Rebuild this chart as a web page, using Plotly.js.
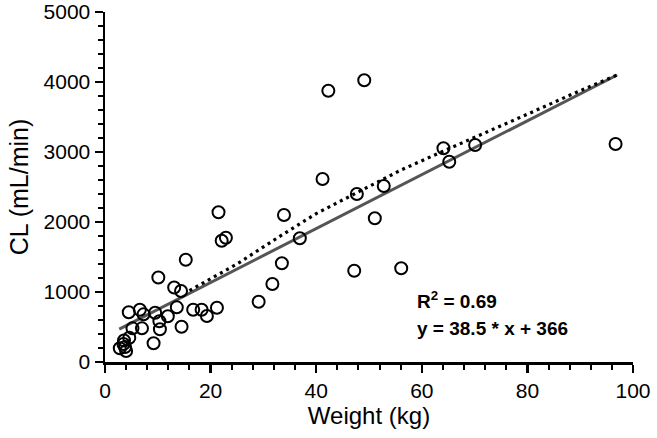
<!DOCTYPE html>
<html>
<head>
<meta charset="utf-8">
<script src="https://cdn.plot.ly/plotly-3.0.1.min.js"></script>
<style>html,body{margin:0;padding:0;background:#fff;}#chart{width:657px;height:438px;}</style>
</head>
<body>
<div id="chart"></div>
<script>
// Observed data: body weight (kg) vs clearance (mL/min)
var weight = [42.3, 49.1, 41.2, 47.7, 52.8, 51.1, 64.1, 65.2, 70.1, 96.7,
  33.9, 36.9, 33.5, 47.2, 56.1, 21.5, 22.1, 22.9, 15.3, 10.1,
  13.1, 14.4, 31.7, 29.1, 4.5, 6.6, 7.3, 9.5, 13.6, 11.9,
  16.7, 18.3, 19.3, 21.2, 10.3, 10.4, 14.5, 7.0, 5.2, 9.2,
  4.6, 3.6, 3.5, 2.8, 4.0, 3.8];
var clearance = [3876, 4024, 2614, 2400, 2514, 2053, 3053, 2861, 3100, 3114,
  2100, 1767, 1410, 1304, 1339, 2139, 1733, 1776, 1461, 1207,
  1064, 1014, 1114, 861, 710, 747, 681, 704, 781, 653,
  747, 747, 657, 776, 583, 467, 504, 481, 481, 267,
  347, 307, 257, 196, 157, 215];

// Linear regression line
var fitX = [2.7, 97];
var fitY = [470, 4100];

// Dotted reference curve
var dotX = [16, 25, 33, 40, 48, 56, 64, 72, 80, 88, 97];
var dotY = [1020, 1400, 1790, 2120, 2430, 2740, 3010, 3270, 3540, 3810, 4100];

var r2Text = 'R<sup>2</sup> = 0.69';
var eqText = 'y = 38.5 * x + 366';

var FONT = '"Liberation Sans", Arial, Helvetica, sans-serif';

var traces = [
  {x: fitX, y: fitY, mode: 'lines', type: 'scatter',
   line: {color: '#555555', width: 3}, hoverinfo: 'skip'},
  {x: dotX, y: dotY, mode: 'lines', type: 'scatter',
   line: {color: '#000000', width: 3.2, dash: '3px,4px'}, hoverinfo: 'skip'},
  {x: weight, y: clearance, mode: 'markers', type: 'scatter', cliponaxis: false,
   marker: {symbol: 'circle-open', size: 12, color: '#000000', line: {width: 2, color: '#000000'}}}
];

var layout = {
  width: 657, height: 438,
  margin: {l: 105, r: 24, t: 12, b: 76},
  paper_bgcolor: '#ffffff', plot_bgcolor: '#ffffff',
  showlegend: false,
  font: {family: FONT, color: '#000000', size: 21},
  xaxis: {
    range: [0, 100], dtick: 20, showgrid: false, zeroline: false,
    showline: true, linecolor: '#000', linewidth: 2.5,
    ticks: 'outside', ticklen: 8, tickwidth: 2.5, tickcolor: '#000',
    minor: {ticks: 'outside', dtick: 4, ticklen: 5, tickwidth: 2, tickcolor: '#000', showgrid: false},
    tickfont: {family: FONT, size: 21, color: '#000'},
    title: {text: 'Weight (kg)', font: {family: FONT, size: 24, color: '#000'}, standoff: 6}
  },
  yaxis: {
    range: [0, 5000], dtick: 1000, showgrid: false, zeroline: false,
    showline: true, linecolor: '#000', linewidth: 2.5,
    ticks: 'outside', ticklen: 8, tickwidth: 2.5, tickcolor: '#000',
    minor: {ticks: 'outside', dtick: 200, ticklen: 5, tickwidth: 2, tickcolor: '#000', showgrid: false},
    tickfont: {family: FONT, size: 21, color: '#000'},
    title: {text: 'CL (mL/min)', font: {family: FONT, size: 25, color: '#000'}, standoff: 8}
  },
  annotations: [
    {x: 58.8, y: 880, xref: 'x', yref: 'y', text: '<b>' + r2Text + '</b>', showarrow: false,
     xanchor: 'left', yanchor: 'middle', font: {family: FONT, size: 19, color: '#000'}},
    {x: 58.8, y: 480, xref: 'x', yref: 'y', text: '<b>' + eqText + '</b>', showarrow: false,
     xanchor: 'left', yanchor: 'middle', font: {family: FONT, size: 19, color: '#000'}}
  ]
};

Plotly.newPlot('chart', traces, layout, {staticPlot: true, displayModeBar: false});
</script>
</body>
</html>
